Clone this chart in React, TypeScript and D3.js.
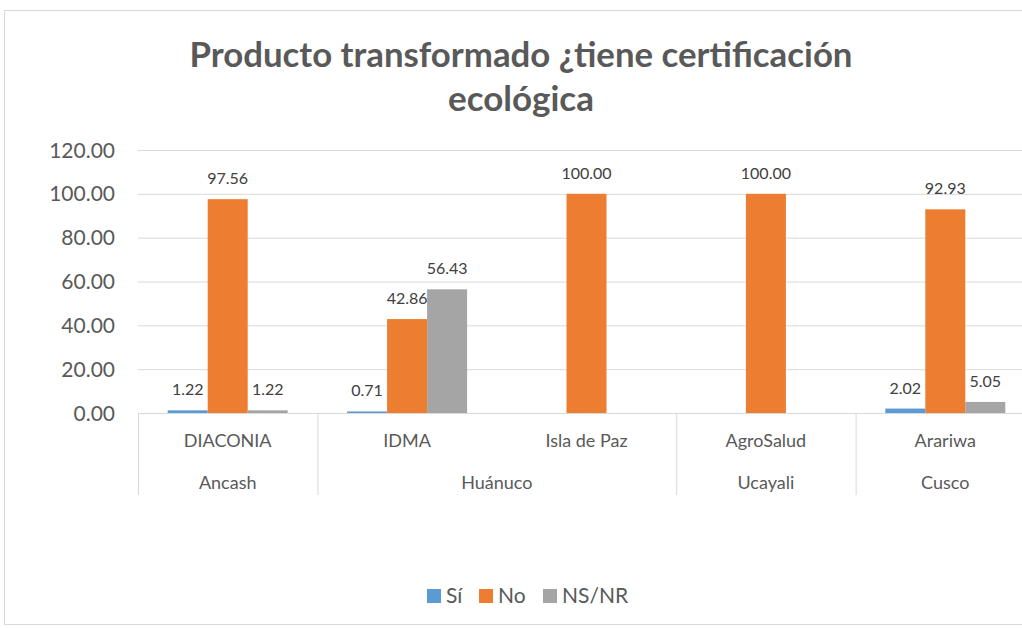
import React from "react";
import * as d3 from "d3";

const orgs = ["DIACONIA", "IDMA", "Isla de Paz", "AgroSalud", "Arariwa"];
const regions = [
  { name: "Ancash", span: 1 },
  { name: "Huánuco", span: 2 },
  { name: "Ucayali", span: 1 },
  { name: "Cusco", span: 1 },
];
const seriesNames = ["Sí", "No", "NS/NR"];
const seriesColors = ["#5B9BD5", "#ED7D31", "#A5A5A5"];
const siValues: (number | null)[] = [1.22, 0.71, null, null, 2.02];
const noValues: (number | null)[] = [97.56, 42.86, 100.0, 100.0, 92.93];
const nsValues: (number | null)[] = [1.22, 56.43, null, null, 5.05];
const yTicks = [0, 20, 40, 60, 80, 100, 120];

const W = 1022;
const H = 628;
const left = 138;
const right = 1035;
const top = 150;
const bottom = 413;

export default function App() {
  const series = [siValues, noValues, nsValues];
  const y = d3.scaleLinear().domain([0, 120]).range([bottom, top]);
  const x = d3.scaleBand<string>().domain(orgs).range([left, right]).paddingInner(0).paddingOuter(0);
  const bw = x.bandwidth();
  const groupW = bw * (120 / 179.4);
  const inner = d3
    .scaleBand<string>()
    .domain(seriesNames)
    .range([(bw - groupW) / 2, (bw + groupW) / 2])
    .padding(0);

  const font = "Lato, sans-serif";

  let acc = 0;
  const regionBounds = regions.map((r) => {
    const x0 = left + acc * bw;
    acc += r.span;
    const x1 = left + acc * bw;
    return { ...r, x0, x1 };
  });

  return (
    <svg width={W} height={H} style={{ position: "absolute", left: 0, top: 0 }}>
      <rect x={0} y={0} width={W} height={H} fill="#fff" />
      <rect x={4.5} y={10.5} width={W + 20} height={H - 14} fill="none" stroke="#D9D9D9" strokeWidth={1} />
      <text x={521} y={67} textAnchor="middle" fontFamily={font} fontWeight="bold" fontSize={34} fill="#595959" textLength={663} lengthAdjust="spacingAndGlyphs">
        Producto transformado ¿tiene certificación
      </text>
      <text x={521} y={111} textAnchor="middle" fontFamily={font} fontWeight="bold" fontSize={34} fill="#595959" textLength={146} lengthAdjust="spacingAndGlyphs">
        ecológica
      </text>
      {yTicks.map((t) => (
        <g key={t}>
          <line x1={left} x2={W} y1={y(t) + 0.5} y2={y(t) + 0.5} stroke="#D9D9D9" strokeWidth={1} />
          <text x={115} y={y(t) + 7.5} textAnchor="end" fontFamily={font} fontSize={21} fill="#595959">
            {t.toFixed(2)}
          </text>
        </g>
      ))}
      {orgs.map((o, i) =>
        series.map((vals, s) => {
          const v = vals[i];
          if (v === null) return null;
          const bx = (x(o) as number) + (inner(seriesNames[s]) as number);
          return (
            <g key={o + s}>
              <rect x={bx} y={y(v)} width={inner.bandwidth()} height={bottom - y(v)} fill={seriesColors[s]} />
              <text x={bx + inner.bandwidth() / 2} y={y(v) - 15} textAnchor="middle" fontFamily={font} fontSize={16} fill="#404040">
                {v.toFixed(2)}
              </text>
            </g>
          );
        })
      )}
      {orgs.map((o) => (
        <text key={o} x={(x(o) as number) + bw / 2} y={447} textAnchor="middle" fontFamily={font} fontSize={18} fill="#595959">
          {o}
        </text>
      ))}
      {regionBounds.map((r) => (
        <g key={r.name}>
          <line x1={r.x0 + 0.5} x2={r.x0 + 0.5} y1={bottom} y2={495} stroke="#D9D9D9" />
          <text x={(r.x0 + r.x1) / 2} y={489} textAnchor="middle" fontFamily={font} fontSize={18} fill="#595959">
            {r.name}
          </text>
        </g>
      ))}
      {seriesNames.map((n, i) => {
        const lx = [427, 479, 543][i];
        return (
          <g key={n}>
            <rect x={lx} y={589} width={14} height={14} fill={seriesColors[i]} />
            <text x={lx + 19} y={603} fontFamily={font} fontSize={21} fill="#595959">
              {n}
            </text>
          </g>
        );
      })}
    </svg>
  );
}
